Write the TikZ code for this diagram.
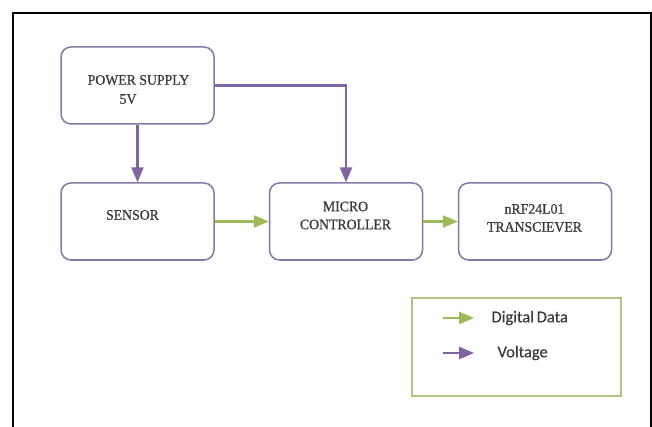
\documentclass[tikz,border=0pt]{standalone}
\usepackage{fontspec}
\setmainfont{Liberation Serif}
\newfontfamily\blockfont[FakeStretch=0.95, FakeBold=0.8]{Liberation Serif}
\newfontfamily\legendfont[FakeBold=0.4]{Carlito}
\usetikzlibrary{arrows}
\definecolor{voltpurple}{HTML}{8064A2}
\definecolor{datagreen}{HTML}{9BBB59}
\definecolor{boxline}{HTML}{8678A8}
\definecolor{legendline}{HTML}{AFC47E}
\definecolor{labelgray}{HTML}{3A3A3A}
\tikzset{
  block/.style={draw=boxline, line width=1.5pt, rounded corners=10pt, fill=white,
    minimum width=153pt, minimum height=77pt, inner sep=0pt},
  blocktext/.style={align=center, text=labelgray, inner sep=0pt,
    font=\blockfont\fontsize{14.5}{18}\selectfont},
  volt/.style={->, draw=voltpurple, line width=2.5pt},
  data/.style={->, draw=datagreen, line width=2.5pt},
  legendtext/.style={anchor=west, text=labelgray, font=\legendfont\fontsize{16.5}{18}\selectfont}
}
\begin{document}
\begin{tikzpicture}[x=1pt, y=1pt, >=triangle 45]
  \useasboundingbox (0,0) rectangle (652,-427);
  % outer frame
  \draw [line width=2pt] (13,-427) -- (13,-13) -- (651,-13) -- (651,-427);
  % blocks
  \node [block] (power) at (137.5,-85.5) {};
  \node [block] (sensor) at (137.5,-221.5) {};
  \node [block] (micro) at (346,-221.5) {};
  \node [block] (radio) at (535,-221.5) {};
  \node [blocktext, align=left, font=\blockfont\fontsize{14.5}{19}\selectfont] (powertext) at (138.5,-89.5) {POWER SUPPLY\\ \hspace*{2.2em}5V};
  \node [blocktext] (sensortext) at (132.5,-215) {SENSOR};
  \node [blocktext] (microtext) at (345.5,-215.5) {MICRO\\ CONTROLLER};
  \node [blocktext] (radiotext) at (534.5,-218) {nRF24L01\\ TRANSCIEVER};
  % connections
  \draw [volt] (power.south) -- (sensor.north);
  \draw [volt] (power.east) -| (micro.north);
  \draw [data] (sensor.east) -- (micro.west);
  \draw [data] (micro.east) -- (radio.west);
  % legend
  \node [draw=legendline, line width=2pt, minimum width=209pt, minimum height=98pt] (legend) at (516.5,-347) {};
  \coordinate (dataA) at (443,-318);
  \coordinate (dataB) at (474,-318);
  \coordinate (voltA) at (443,-353);
  \coordinate (voltB) at (474,-353);
  \draw [data] (dataA) -- (dataB);
  \draw [volt] (voltA) -- (voltB);
  \node [legendtext] (datalabel) at (488,-318) {Digital\,Data};
  \node [legendtext] (voltlabel) at (494,-353) {Voltage};
\end{tikzpicture}
\end{document}
